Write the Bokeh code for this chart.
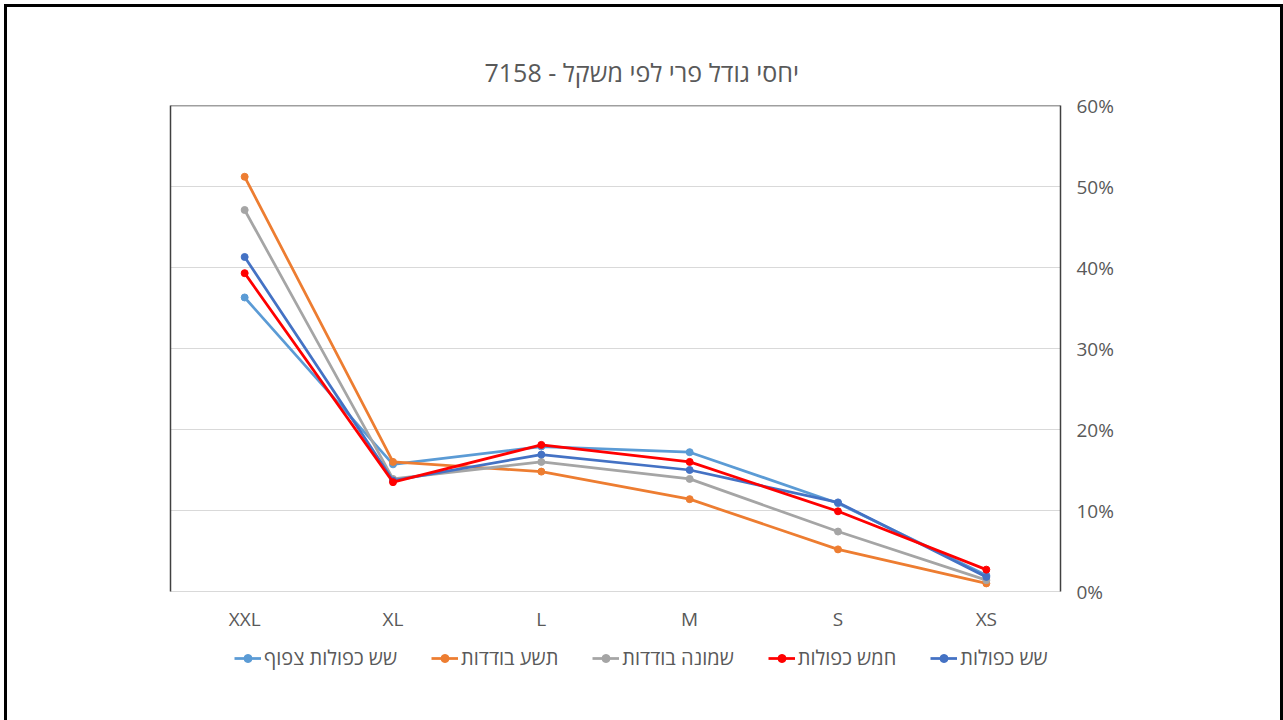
from bokeh.plotting import figure
from bokeh.layouts import column
from bokeh.models import (Legend, LegendItem, LinearAxis, FixedTicker,
                          NumeralTickFormatter, Span, Range1d, FactorRange)
from bokeh.embed import file_html
from bokeh.resources import INLINE

# ---- data ----
categories = ["XXL", "XL", "L", "M", "S", "XS"]
shesh_kfulot = [0.413, 0.137, 0.169, 0.150, 0.110, 0.018]          # שש כפולות
chamesh_kfulot = [0.393, 0.135, 0.181, 0.160, 0.099, 0.027]        # חמש כפולות
shmone_bodedot = [0.471, 0.139, 0.160, 0.139, 0.074, 0.014]        # שמונה בודדות
tesha_bodedot = [0.512, 0.160, 0.148, 0.114, 0.052, 0.010]         # תשע בודדות
shesh_kfulot_tsafuf = [0.363, 0.157, 0.179, 0.172, 0.109, 0.020]   # שש כפולות צפוף
y_ticks = [0, 0.1, 0.2, 0.3, 0.4, 0.5, 0.6]
title_text = "7158 - יחסי גודל פרי לפי משקל"

series = [
    ("שש כפולות צפוף", shesh_kfulot_tsafuf, "#5B9BD5"),
    ("תשע בודדות", tesha_bodedot, "#ED7D31"),
    ("שמונה בודדות", shmone_bodedot, "#A5A5A5"),
    ("שש כפולות", shesh_kfulot, "#4472C4"),
    ("חמש כפולות", chamesh_kfulot, "#FF0000"),
]
legend_order = ["שש כפולות צפוף", "תשע בודדות", "שמונה בודדות", "חמש כפולות", "שש כפולות"]

FONT = "Open Sans"
GREY = "#595959"
W, H1, H2 = 1283, 630, 90

p = figure(x_range=categories, y_range=(0, 0.6), frame_width=890, frame_height=486,
           output_backend="svg", toolbar_location=None, y_axis_location="right",
           min_border_left=170, min_border_right=W - 170 - 890,
           min_border_top=105, min_border_bottom=H1 - 105 - 486)

p.outline_line_color = None
p.background_fill_color = "white"
p.border_fill_alpha = 0

# title
p.title.text = title_text
p.title.align = "left"
p.title.text_font = FONT
p.title.text_font_size = "25px"
p.title.text_font_style = "normal"
p.title.text_color = GREY
p.title.offset = 314
p.title.standoff = 34

# x axis
xa = p.xaxis[0]
xa.axis_line_color = "#D9D9D9"
xa.axis_line_width = 1
xa.major_tick_line_color = None
xa.minor_tick_line_color = None
xa.major_label_text_font = FONT
xa.major_label_text_font_size = "19px"
xa.major_label_text_color = GREY
xa.major_label_standoff = 8

# y axis (right)
ya = p.yaxis[0]
ya.ticker = FixedTicker(ticks=y_ticks)
ya.formatter = NumeralTickFormatter(format="0%")
ya.axis_line_color = "#404040"
ya.axis_line_width = 1.5
ya.major_tick_line_color = None
ya.minor_tick_line_color = None
ya.major_label_text_font = FONT
ya.major_label_text_font_size = "19px"
ya.major_label_text_color = GREY
ya.major_label_standoff = 10

# frame lines left & top
left_line = LinearAxis(ticker=FixedTicker(ticks=[]), axis_line_color="#404040", axis_line_width=1.5,
                       major_tick_line_color=None, minor_tick_line_color=None, major_label_standoff=0)
p.add_layout(left_line, "left")
p.add_layout(Span(location=y_ticks[-1], dimension="width", line_color="#404040", line_width=1.5))

# grid
p.xgrid.grid_line_color = None
p.ygrid.grid_line_color = "#D9D9D9"
p.ygrid.ticker = FixedTicker(ticks=y_ticks)

for name, vals, color in series:
    p.line(x=categories, y=vals, line_color=color, line_width=2.75)
    p.scatter(x=categories, y=vals, marker="circle", size=7, fill_color=color, line_color=color)

# legend strip below the chart (series drawn out of its visible range; only the legend shows)
q = figure(width=W, height=H2, x_range=FactorRange(*categories), y_range=Range1d(1, 2),
           x_axis_type=None, y_axis_type=None, output_backend="svg", toolbar_location=None,
           min_border=0, outline_line_color=None)
q.border_fill_alpha = 0
q.background_fill_alpha = 0
q.grid.visible = False

legend_renderers = {}
for name, vals, color in series:
    l = q.line(x=categories, y=vals, line_color=color, line_width=2.75)
    c = q.scatter(x=categories, y=vals, marker="circle", size=7, fill_color=color, line_color=color)
    legend_renderers[name] = [l, c]

items = [LegendItem(label=n, renderers=legend_renderers[n]) for n in legend_order]
legend = Legend(items=items, orientation="horizontal", location=(64, 53),
                label_text_font=FONT, label_text_font_size="20px", label_text_color=GREY,
                glyph_width=27, glyph_height=20, label_standoff=3, spacing=34,
                border_line_color=None, background_fill_alpha=0, margin=0, padding=4)
q.add_layout(legend, "center")

layout = column(p, q, spacing=0)
layout.styles = {"box-shadow": "inset 4px 4px 0 0 white, inset 7px 7px 0 0 black, inset -3px 0 0 0 black"}

open("out.html", "w").write(file_html(layout, INLINE))
